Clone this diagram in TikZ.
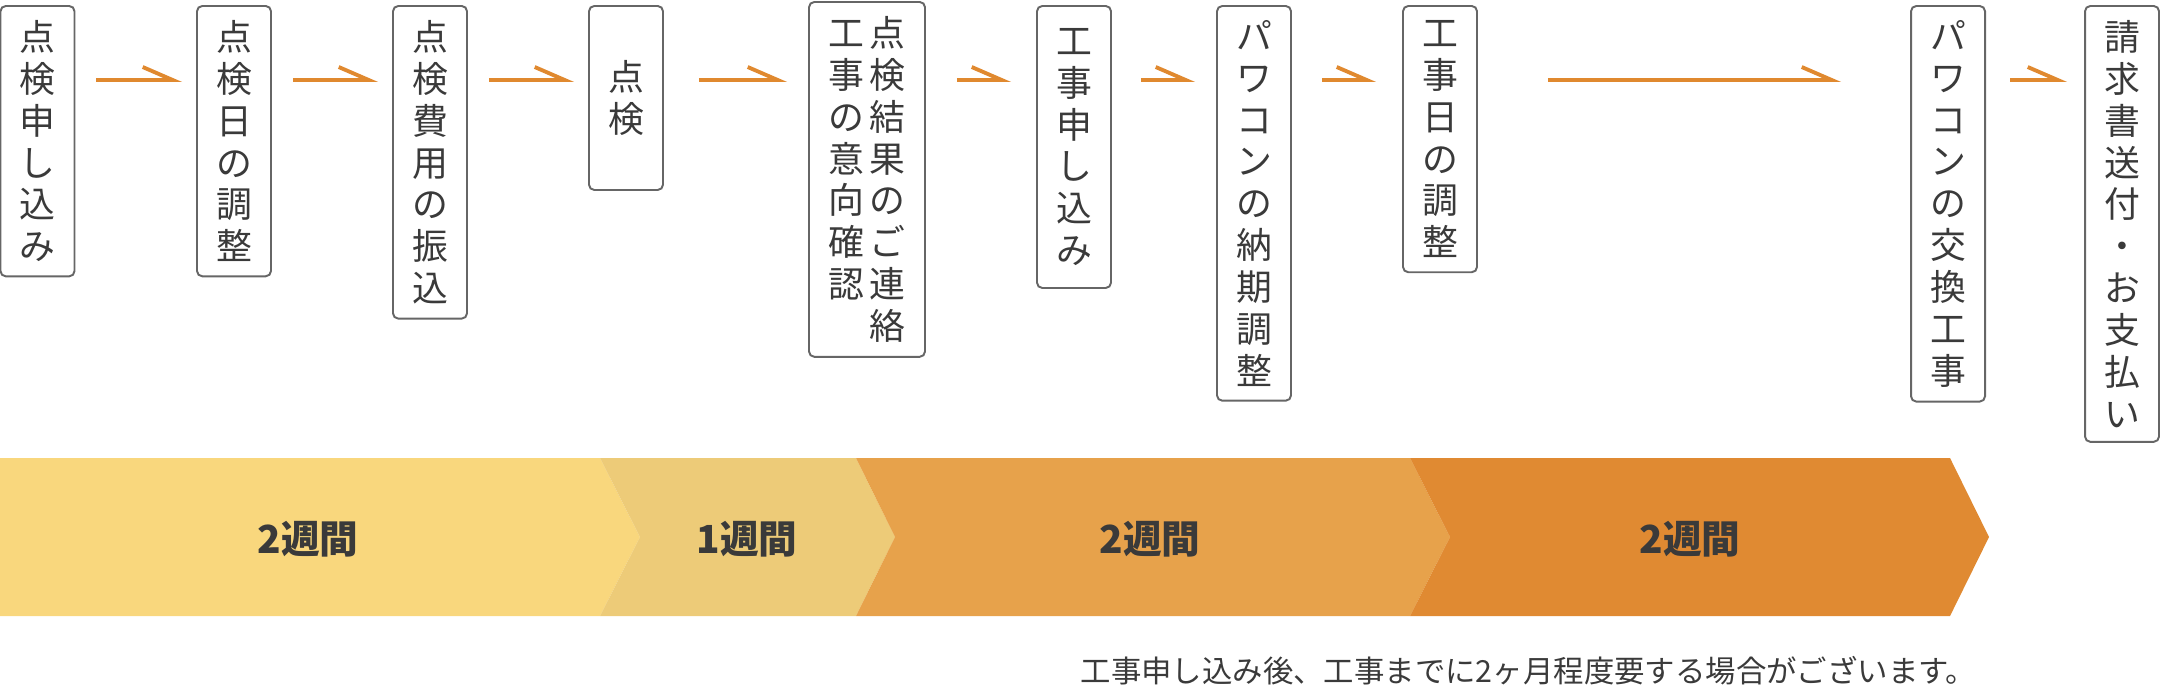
\documentclass[tikz,border=0pt]{standalone}
\usepackage{fontspec}
\setmainfont{Noto Sans CJK JP}
\usepackage{tikz}
\usetikzlibrary{calc,positioning,arrows.meta}
\definecolor{figText}{HTML}{3A3A3A}
\definecolor{figFrame}{HTML}{666666}
\definecolor{figOrange}{HTML}{E0892F}
\definecolor{spanA}{HTML}{F9D77D}
\definecolor{spanB}{HTML}{EDCB78}
\definecolor{spanC}{HTML}{E7A24B}
\definecolor{spanD}{HTML}{E08A32}

\begin{document}
\begin{tikzpicture}[
  every node/.style={text=figText},
  stepbox/.style={draw=figFrame, line width=0.55pt, fill=white, rounded corners=1.5pt,
             anchor=north, minimum width=0.74cm, inner xsep=0pt, inner ysep=0.145cm,
             font=\fontsize{10.2}{11.9}\selectfont, align=center},
  flow/.style={-{Straight Barb[left, length=0.3cm, width=0.26cm, line width=1.1pt]},
             line width=1.15pt, figOrange, shorten <=0.21cm, shorten >=0.14cm},
  span/.style={font=\fontsize{11}{13}\selectfont\bfseries},
]
\useasboundingbox (0,0) rectangle (21.6,-6.86);

% Top row: steps
\node[stepbox] (apply) at (0.375,-0.05) {点\\検\\申\\し\\込\\み};
\node[stepbox] (dateadj) at (2.34,-0.05) {点\\検\\日\\の\\調\\整};
\node[stepbox] (payfee) at (4.30,-0.05) {点\\検\\費\\用\\の\\振\\込};
\node[stepbox, minimum height=1.84cm] (inspect) at (6.26,-0.05) {点\\検};
\node[stepbox, minimum width=1.16cm] (report) at (8.67,-0.01)
  {工\kern0.05cm 点\\事\kern0.05cm 検\\の\kern0.05cm 結\\意\kern0.05cm 果\\向\kern0.05cm の\\確\kern0.05cm ご\\認\kern0.05cm 連\\　\kern0.05cm 絡};
\node[stepbox, minimum height=2.82cm] (order) at (10.74,-0.05) {工\\事\\申\\し\\込\\み};
\node[stepbox] (delivery) at (12.54,-0.05) {パ\\ワ\\コ\\ン\\の\\納\\期\\調\\整};
\node[stepbox] (workdate) at (14.40,-0.05) {工\\事\\日\\の\\調\\整};
\node[stepbox] (replace) at (19.48,-0.05) {パ\\ワ\\コ\\ン\\の\\交\\換\\工\\事};
\node[stepbox] (invoice) at (21.22,-0.05) {請\\求\\書\\送\\付\\・\\お\\支\\払\\い};

% Arrows between steps
\coordinate (lane) at (0,-0.80);
\draw[flow] (apply.east |- lane) -- (dateadj.west |- lane);
\draw[flow] (dateadj.east |- lane) -- (payfee.west |- lane);
\draw[flow] (payfee.east |- lane) -- (inspect.west |- lane);
\draw[flow, shorten <=0.35cm, shorten >=0.21cm] (inspect.east |- lane) -- (report.west |- lane);
\draw[flow, shorten <=0.31cm, shorten >=0.25cm] (report.east |- lane) -- (order.west |- lane);
\draw[flow, shorten <=0.29cm, shorten >=0.21cm] (order.east |- lane) -- (delivery.west |- lane);
\draw[flow, shorten <=0.30cm, shorten >=0.26cm] (delivery.east |- lane) -- (workdate.west |- lane);
\draw[flow, shorten <=0.70cm, shorten >=0.69cm] (workdate.east |- lane) -- (replace.west |- lane);
\draw[flow, shorten <=0.24cm, shorten >=0.17cm] (replace.east |- lane) -- (invoice.west |- lane);

% Bottom band: durations
\fill[spanA] (0,-4.58) -- (6.00,-4.58) -- (6.40,-5.37) -- (6.00,-6.16) -- (0,-6.16) -- cycle;
\fill[spanB] (6.00,-4.58) -- (8.56,-4.58) -- (8.95,-5.37) -- (8.56,-6.16) -- (6.00,-6.16) -- (6.40,-5.37) -- cycle;
\fill[spanC] (8.56,-4.58) -- (14.10,-4.58) -- (14.50,-5.37) -- (14.10,-6.16) -- (8.56,-6.16) -- (8.95,-5.37) -- cycle;
\fill[spanD] (14.10,-4.58) -- (19.50,-4.58) -- (19.89,-5.37) -- (19.50,-6.16) -- (14.10,-6.16) -- (14.50,-5.37) -- cycle;

\node[span] (weeksA) at (3.08,-5.39) {2週間};
\node[span] (weeksB) at (7.47,-5.39) {1週間};
\node[span] (weeksC) at (11.50,-5.39) {2週間};
\node[span] (weeksD) at (16.90,-5.39) {2週間};

% Note
\node[anchor=west, inner sep=0pt, font=\fontsize{8.65}{10}\selectfont] (note) at (10.80,-6.71)
  {工事申し込み後、工事までに2ヶ月程度要する場合がございます。};

\end{tikzpicture}
\end{document}
